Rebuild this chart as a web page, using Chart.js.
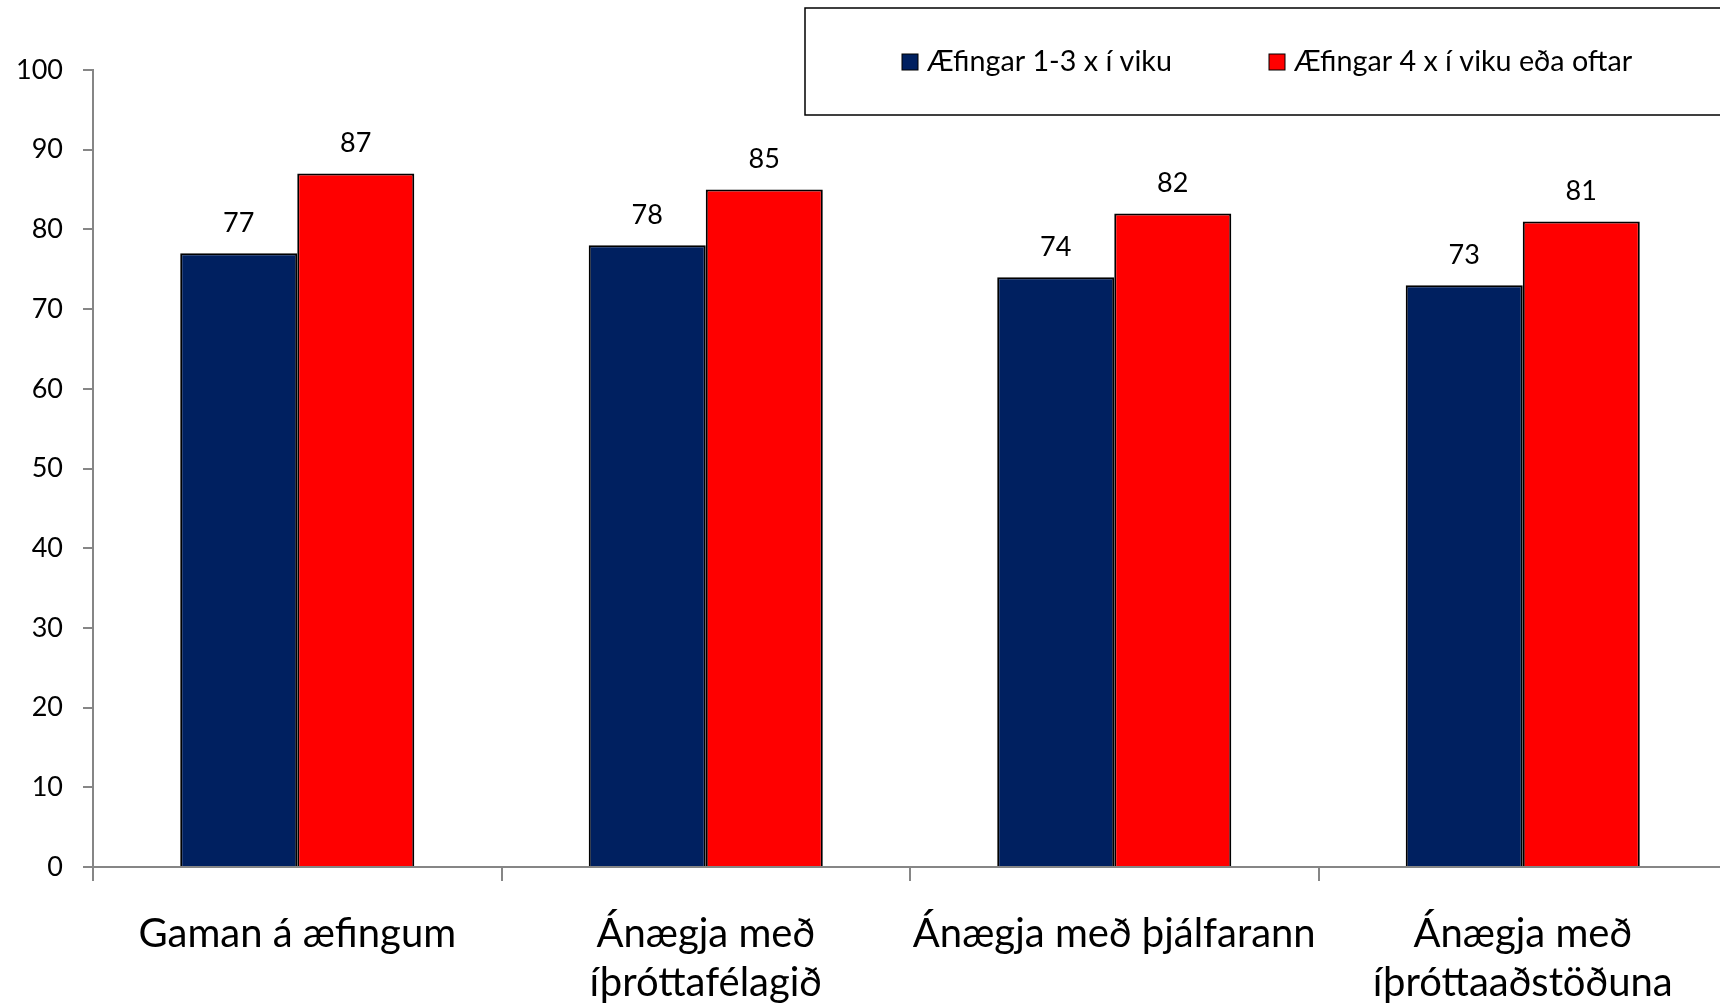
<!DOCTYPE html>
<html>
<head>
<meta charset="utf-8">
<script src="https://cdn.jsdelivr.net/npm/chart.js@4.4.1/dist/chart.umd.min.js"></script>
<style>
  body { margin: 0; background: #fff; overflow: hidden; }
  #wrap { width: 1740px; height: 1007px; }
</style>
</head>
<body>
<div id="wrap"><canvas id="myChart" width="1740" height="1007"></canvas></div>
<script>
'use strict';

var categories = [
	'Gaman á æfingum',
	['Ánægja með', 'íþróttafélagið'],
	'Ánægja með þjálfarann',
	['Ánægja með', 'íþróttaaðstöðuna']
];
var seriesNames = ['Æfingar 1-3 x í viku', 'Æfingar 4 x í viku eða oftar'];
var lowFreq = [77, 78, 74, 73];
var highFreq = [87, 85, 82, 81];
var yTicks = [0, 10, 20, 30, 40, 50, 60, 70, 80, 90, 100];

var fontFamily = 'Lato, "Open Sans", sans-serif';
var axisGrey = '#868686';

// values above bars
var valueLabels = {
	id: 'valueLabels',
	afterDatasetsDraw: function (chart) {
		var c = chart.ctx;
		c.save();
		c.font = '27px ' + fontFamily;
		c.fillStyle = '#000';
		c.textAlign = 'center';
		c.textBaseline = 'middle';
		chart.data.datasets.forEach(function (ds, i) {
			chart.getDatasetMeta(i).data.forEach(function (bar, j) {
				c.fillText(ds.data[j], bar.x, bar.y - 30);
			});
		});
		c.restore();
	}
};

// framed legend like the original
var boxLegend = {
	id: 'boxLegend',
	afterDraw: function (chart) {
		var c = chart.ctx;
		c.save();
		c.strokeStyle = '#000';
		c.lineWidth = 1.5;
		c.strokeRect(805, 8, 1000, 107);
		c.font = '28.7px ' + fontFamily;
		c.textBaseline = 'middle';
		c.textAlign = 'left';
		var xs = [902, 1269];
		chart.data.datasets.forEach(function (ds, i) {
			c.fillStyle = ds.backgroundColor;
			c.fillRect(xs[i], 54, 16, 16);
			c.strokeStyle = '#000';
			c.lineWidth = 1;
			c.strokeRect(xs[i], 54, 16, 16);
			c.fillStyle = '#000';
			c.fillText(ds.label, xs[i] + 25, 62);
		});
		c.restore();
	}
};

var ctx = document.getElementById('myChart').getContext('2d');

var myChart = new Chart(ctx, {
	type: 'bar',
	data: {
		labels: categories,
		datasets: [{
			label: seriesNames[0],
			data: lowFreq,
			backgroundColor: '#002060',
			borderColor: '#000',
			borderWidth: 2
		}, {
			label: seriesNames[1],
			data: highFreq,
			backgroundColor: '#FF0000',
			borderColor: '#000',
			borderWidth: 2
		}]
	},
	options: {
		responsive: false,
		animation: false,
		layout: { padding: { top: 70, right: 13, left: 0, bottom: 0 } },
		plugins: {
			legend: { display: false },
			tooltip: { enabled: false }
		},
		datasets: {
			bar: { categoryPercentage: 0.573, barPercentage: 1.0 }
		},
		scales: {
			x: {
				offset: true,
				grid: {
					offset: true,
					drawOnChartArea: false,
					color: axisGrey,
					lineWidth: 2,
					tickLength: 14
				},
				border: { color: axisGrey, width: 2 },
				ticks: {
					color: '#000',
					padding: 29,
					maxRotation: 0,
					autoSkip: false,
					font: { family: fontFamily, size: 40, lineHeight: 1.22 }
				},
				afterFit: function (scale) { scale.height = 140; }
			},
			y: {
				min: 0,
				max: 100,
				afterBuildTicks: function (scale) {
					scale.ticks = yTicks.map(function (v) { return { value: v }; });
				},
				grid: {
					drawOnChartArea: false,
					color: axisGrey,
					lineWidth: 2,
					tickLength: 10
				},
				border: { color: axisGrey, width: 2 },
				ticks: {
					color: '#000',
					padding: 20,
					font: { family: fontFamily, size: 27 }
				},
				afterFit: function (scale) { scale.width = 93; }
			}
		}
	},
	plugins: [valueLabels, boxLegend]
});
</script>
</body>
</html>
